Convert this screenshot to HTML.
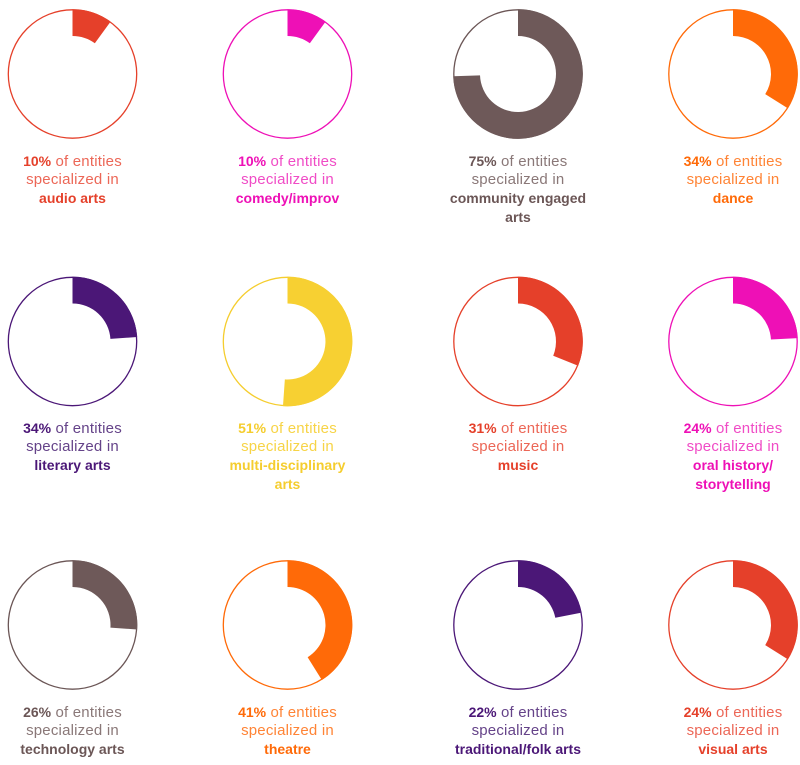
<!DOCTYPE html>
<html>
<head>
<meta charset="utf-8">
<style>
html,body{margin:0;padding:0;background:#fff;}
body{width:800px;height:765px;position:relative;overflow:hidden;font-family:"Liberation Sans",sans-serif;}
svg{position:absolute;left:0;top:0;}
.t{position:absolute;width:200px;text-align:center;line-height:18px;font-size:15px;letter-spacing:0.2px;}
.t b{font-size:14px;font-weight:bold;letter-spacing:0;}
.red{color:#ec6757}.red b{color:#e5402a}
.mag{color:#f04cc6}.mag b{color:#ee10b6}
.brn{color:#8a7878}.brn b{color:#6b5656}
.org{color:#ff8436}.org b{color:#ff6a08}
.pur{color:#654389}.pur b{color:#4b1777}
.yel{color:#f7d447}.yel b{color:#f5cd2e}
</style>
</head>
<body>
<svg width="800" height="765" viewBox="0 0 800 765">
  <!-- Row 1 -->
  <g transform="translate(72.5,74)">
    <circle r="64.2" fill="none" stroke="#e5402a" stroke-width="1.3"/>
    <path d="M0,-64.8 A64.8,64.8 0 0 1 38.09,-52.42 L22.34,-30.74 A38,38 0 0 0 0,-38 Z" fill="#e5402a"/>
  </g>
  <g transform="translate(287.5,74)">
    <circle r="64.2" fill="none" stroke="#ee10b6" stroke-width="1.3"/>
    <path d="M0,-64.8 A64.8,64.8 0 0 1 38.09,-52.42 L22.34,-30.74 A38,38 0 0 0 0,-38 Z" fill="#ee10b6"/>
  </g>
  <g transform="translate(518,74)">
    <circle r="64.2" fill="none" stroke="#6b5656" stroke-width="1.3"/>
    <path d="M0,-64.8 A64.8,64.8 0 1 1 -64.76,2.26 L-37.98,1.33 A38,38 0 1 0 0,-38 Z" fill="#6e5959"/>
  </g>
  <g transform="translate(733,74)">
    <circle r="64.2" fill="none" stroke="#ff6a08" stroke-width="1.3"/>
    <path d="M0,-64.8 A64.8,64.8 0 0 1 54.95,34.34 L32.22,20.14 A38,38 0 0 0 0,-38 Z" fill="#ff6a08"/>
  </g>
  <!-- Row 2 -->
  <g transform="translate(72.5,341.5)">
    <circle r="64.2" fill="none" stroke="#4b1777" stroke-width="1.3"/>
    <path d="M0,-64.8 A64.8,64.8 0 0 1 64.64,-4.52 L37.91,-2.65 A38,38 0 0 0 0,-38 Z" fill="#4b1777"/>
  </g>
  <g transform="translate(287.5,341.5)">
    <circle r="64.2" fill="none" stroke="#f5cd2e" stroke-width="1.3"/>
    <path d="M0,-64.8 A64.8,64.8 0 1 1 -4.52,64.64 L-2.65,37.91 A38,38 0 1 0 0,-38 Z" fill="#f7d032"/>
  </g>
  <g transform="translate(518,341.5)">
    <circle r="64.2" fill="none" stroke="#e5402a" stroke-width="1.3"/>
    <path d="M0,-64.8 A64.8,64.8 0 0 1 60.08,24.27 L35.23,14.23 A38,38 0 0 0 0,-38 Z" fill="#e5402a"/>
  </g>
  <g transform="translate(733,341.5)">
    <circle r="64.2" fill="none" stroke="#ee10b6" stroke-width="1.3"/>
    <path d="M0,-64.8 A64.8,64.8 0 0 1 64.71,-3.39 L37.95,-1.99 A38,38 0 0 0 0,-38 Z" fill="#ee10b6"/>
  </g>
  <!-- Row 3 -->
  <g transform="translate(72.5,625)">
    <circle r="64.2" fill="none" stroke="#6b5656" stroke-width="1.3"/>
    <path d="M0,-64.8 A64.8,64.8 0 0 1 64.64,4.52 L37.91,2.65 A38,38 0 0 0 0,-38 Z" fill="#6e5959"/>
  </g>
  <g transform="translate(287.5,625)">
    <circle r="64.2" fill="none" stroke="#ff6a08" stroke-width="1.3"/>
    <path d="M0,-64.8 A64.8,64.8 0 0 1 34.34,54.95 L20.14,32.22 A38,38 0 0 0 0,-38 Z" fill="#ff6a08"/>
  </g>
  <g transform="translate(518,625)">
    <circle r="64.2" fill="none" stroke="#4b1777" stroke-width="1.3"/>
    <path d="M0,-64.8 A64.8,64.8 0 0 1 63.61,-12.36 L37.30,-7.25 A38,38 0 0 0 0,-38 Z" fill="#4b1777"/>
  </g>
  <g transform="translate(733,625)">
    <circle r="64.2" fill="none" stroke="#e5402a" stroke-width="1.3"/>
    <path d="M0,-64.8 A64.8,64.8 0 0 1 54.95,34.34 L32.22,20.14 A38,38 0 0 0 0,-38 Z" fill="#e5402a"/>
  </g>
</svg>

<!-- Row 1 text -->
<div class="t red" style="left:-27.5px;top:152px;"><b>10%</b> of entities<br>specialized in<br><b>audio arts</b></div>
<div class="t mag" style="left:187.5px;top:152px;"><b>10%</b> of entities<br>specialized in<br><b>comedy/improv</b></div>
<div class="t brn" style="left:418px;top:152px;"><b>75%</b> of entities<br>specialized in<br><b>community engaged<br>arts</b></div>
<div class="t org" style="left:633px;top:152px;"><b>34%</b> of entities<br>specialized in<br><b>dance</b></div>

<!-- Row 2 text -->
<div class="t pur" style="left:-27.5px;top:419px;"><b>34%</b> of entities<br>specialized in<br><b>literary arts</b></div>
<div class="t yel" style="left:187.5px;top:419px;"><b>51%</b> of entities<br>specialized in<br><b>multi-disciplinary<br>arts</b></div>
<div class="t red" style="left:418px;top:419px;"><b>31%</b> of entities<br>specialized in<br><b>music</b></div>
<div class="t mag" style="left:633px;top:419px;"><b>24%</b> of entities<br>specialized in<br><b>oral history/<br>storytelling</b></div>

<!-- Row 3 text -->
<div class="t brn" style="left:-27.5px;top:703px;"><b>26%</b> of entities<br>specialized in<br><b>technology arts</b></div>
<div class="t org" style="left:187.5px;top:703px;"><b>41%</b> of entities<br>specialized in<br><b>theatre</b></div>
<div class="t pur" style="left:418px;top:703px;"><b>22%</b> of entities<br>specialized in<br><b>traditional/folk arts</b></div>
<div class="t red" style="left:633px;top:703px;"><b>24%</b> of entities<br>specialized in<br><b>visual arts</b></div>
</body>
</html>
